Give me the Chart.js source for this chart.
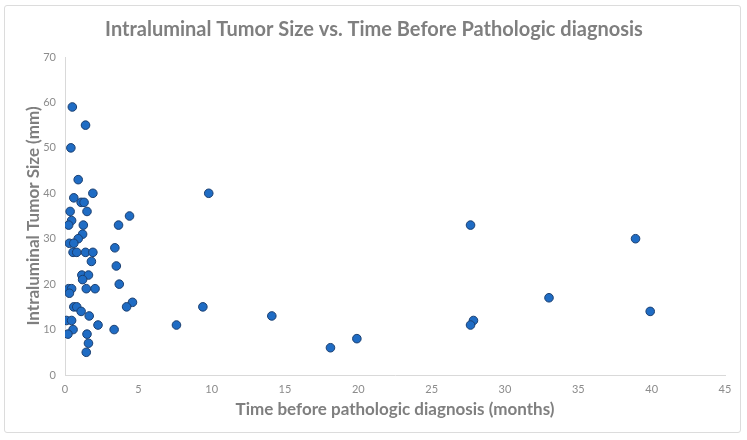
<!DOCTYPE html>
<html>
<head>
<meta charset="utf-8">
<script src="https://cdn.jsdelivr.net/npm/chart.js@4/dist/chart.umd.min.js"></script>
<style>
  html, body { margin: 0; padding: 0; background: #fff; }
  #wrap { position: relative; width: 747px; height: 440px; }
  #frame {
    position: absolute; left: 4px; top: 5px; width: 737px; height: 428px;
    border: 1px solid #dcdcdc; border-radius: 3px; box-sizing: border-box;
  }
  canvas { position: absolute; left: 0; top: 0; }
</style>
</head>
<body>
<div id="wrap">
  <div id="frame"></div>
  <canvas id="chart" width="747" height="440"></canvas>
</div>
<script>
// months before pathologic diagnosis
const timeMonths = [
  0.5, 1.4, 0.4, 0.9, 1.9, 0.6, 1.1, 1.3, 0.35, 1.5,
  4.4, 0.45, 0.25, 1.25, 3.65, 1.2, 0.9, 0.3, 0.6, 3.4,
  0.55, 0.8, 1.4, 1.9, 1.8, 3.5, 1.15, 1.6, 1.2, 3.7,
  0.25, 0.45, 1.45, 2.05, 0.3, 4.6, 4.2, 0.6, 0.8, 1.1,
  1.65, 0.1, 0.45, 2.25, 0.55, 3.35, 0.2, 1.5, 1.6, 1.45,
  7.6, 9.4, 9.8, 14.1, 18.1, 19.9, 27.65, 27.85, 27.65, 33.0,
  38.9, 39.9
];
// intraluminal tumor size (mm)
const tumorSize = [
  59, 55, 50, 43, 40, 39, 38, 38, 36, 36,
  35, 34, 33, 33, 33, 31, 30, 29, 29, 28,
  27, 27, 27, 27, 25, 24, 22, 22, 21, 20,
  19, 19, 19, 19, 18, 16, 15, 15, 15, 14,
  13, 12, 12, 11, 10, 10, 9, 9, 7, 5,
  11, 15, 40, 13, 6, 8, 33, 12, 11, 17,
  30, 14
];

const chartTitle = "Intraluminal Tumor Size vs. Time Before Pathologic diagnosis";
const xTitle = "Time before pathologic diagnosis (months)";
const yTitle = "Intraluminal Tumor Size (mm)";

const points = timeMonths.map((t, i) => ({ x: t, y: tumorSize[i] }));

const fontFamily = "Lato, 'Open Sans', sans-serif";
const greyText = "#7f7f7f";
const tickGrey = "#8c8c8c";
const axisLine = "#d9d9d9";

new Chart(document.getElementById("chart"), {
  type: "scatter",
  data: {
    datasets: [
      {
        label: "Tumor size",
        data: points,
        backgroundColor: "#1f6cc4",
        borderColor: "#1b3f70",
        borderWidth: 1,
        pointRadius: 4.3,
      },
    ],
  },
  options: {
    responsive: false,
    animation: false,
    layout: { padding: { left: 23, right: 22, top: 6, bottom: 20 } },
    plugins: {
      legend: { display: false },
      tooltip: { enabled: false },
      title: {
        display: true,
        text: chartTitle,
        color: greyText,
        font: { family: fontFamily, size: 20, weight: "bold" },
        padding: { top: 12, bottom: 15 },
      },
    },
    scales: {
      x: {
        type: "linear",
        min: 0,
        max: 45,
        afterFit: (scale) => { scale.height = 45; },
        grid: { display: false, drawTicks: false },
        border: { display: true, color: axisLine, width: 1 },
        ticks: {
          stepSize: 5,
          color: tickGrey,
          font: { family: fontFamily, size: 11 },
          padding: 8,
        },
        title: {
          display: true,
          text: xTitle,
          color: greyText,
          font: { family: fontFamily, size: 17, weight: "bold" },
          padding: { top: 4, bottom: 0 },
        },
      },
      y: {
        min: 0,
        max: 70,
        afterFit: (scale) => { scale.width = 42; },
        grid: { display: false, drawTicks: false },
        border: { display: true, color: axisLine, width: 1 },
        ticks: {
          stepSize: 10,
          color: tickGrey,
          font: { family: fontFamily, size: 11 },
          padding: 9,
        },
        title: {
          display: true,
          text: yTitle,
          color: greyText,
          font: { family: fontFamily, size: 17, weight: "bold" },
          padding: { top: 0, bottom: 3 },
        },
      },
    },
  },
});
</script>
</body>
</html>
